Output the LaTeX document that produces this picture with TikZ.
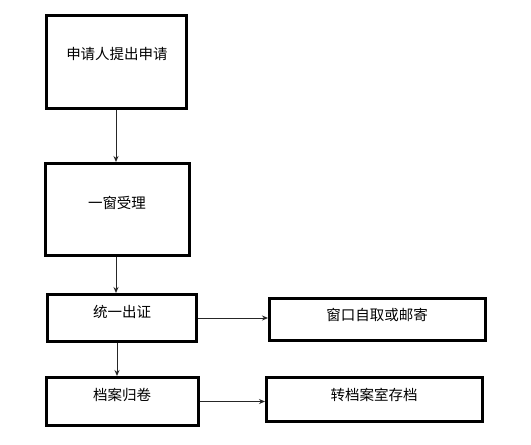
\documentclass[tikz,border=0pt]{standalone}
\usepackage{fontspec}
\setmainfont{Noto Sans CJK SC}
\usetikzlibrary{arrows.meta}
\begin{document}
\begin{tikzpicture}[x=1pt,y=-1pt,
  box/.style={draw=black,line width=3pt,inner sep=0pt,fill=white},
  lbl/.style={inner sep=0pt,font=\fontsize{14.5}{16}\selectfont},
  arr/.style={draw=black!85,line width=1pt,-{Stealth[length=6pt,width=5pt]}}]
\useasboundingbox (0,0) rectangle (531,445);
\fill[white] (0,0) rectangle (531,445);
\node[box,minimum width=140pt,minimum height=93pt] (b1) at (116.5,62) {};
\node[box,minimum width=144pt,minimum height=92pt] (b2) at (117.5,209.5) {};
\node[box,minimum width=149pt,minimum height=47pt] (b3) at (122,318) {};
\node[box,minimum width=216pt,minimum height=42pt] (b4) at (377.5,319.5) {};
\node[box,minimum width=152pt,minimum height=48pt] (b5) at (122.5,401.5) {};
\node[box,minimum width=216pt,minimum height=44pt] (b6) at (374.5,399.5) {};
\node[lbl] (t1) at (117,54) {申请人提出申请};
\node[lbl] (t2) at (117,203) {一窗受理};
\node[lbl] (t3) at (122,312) {统一出证};
\node[lbl] (t4) at (377,315) {窗口自取或邮寄};
\node[lbl] (t5) at (122,395) {档案归卷};
\node[lbl] (t6) at (374,395) {转档案室存档};
\draw[arr] ([xshift=-0.5pt]b1.south) -- ([xshift=-0.5pt]b1.south |- b2.north);
\draw[arr] ([xshift=-1.5pt]b2.south) -- ([xshift=-1.5pt]b2.south |- b3.north);
\draw[arr] ([xshift=-5pt]b3.south) -- ([xshift=-5pt]b3.south |- b5.north);
\draw[arr] (b3.east) -- (b3.east -| b4.west);
\draw[arr] (b5.east) -- (b5.east -| b6.west);
\end{tikzpicture}
\end{document}
